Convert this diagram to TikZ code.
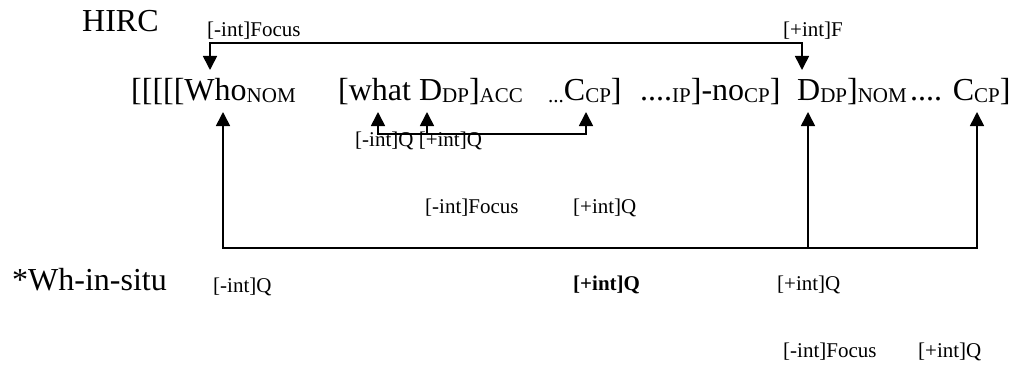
\documentclass[tikz,border=0pt]{standalone}
\usepackage{fontspec}
\setmainfont{Liberation Serif}
\usetikzlibrary{arrows.meta}
\newcommand{\lsub}[1]{{\fontsize{21}{21}\selectfont\raisebox{-2pt}{#1}}}
\begin{document}
\begin{tikzpicture}[x=1pt,y=-1pt,
  big/.style={font=\fontsize{32}{36}\selectfont, inner sep=0pt, anchor=base west},
  small/.style={font=\fontsize{21}{24}\selectfont, inner sep=0pt, anchor=base west},
  conn/.style={line width=1.6pt},
  tip/.style={-{Triangle[width=14pt,length=14pt]}},
  tips/.style={{Triangle[width=14pt,length=14pt]}-{Triangle[width=14pt,length=14pt]}}]
\useasboundingbox (0,0) rectangle (1026,369);
% labels
\node[big] (hirc) at (82,32) {HIRC};
\node[small] (lf1) at (207,37) {[-int]Focus};
\node[small] (lf2) at (783,37) {[+int]F};
% main row
\node[big] (w1) at (131,100) {[[[[[Who\lsub{NOM}};
\node[big] (w2) at (338,100) {[what D\lsub{DP}]\lsub{ACC}};
\node[big] (w3) at (548,100) {\lsub{...}C\lsub{CP}]};
\node[big] (w4) at (640,100) {....\lsub{IP}]-no\lsub{CP}]};
\node[big] (w5) at (797,100) {D\lsub{DP}]\lsub{NOM}};
\node[big] (w6) at (910,100) {.... C\lsub{CP}]};
\node[small] (q1) at (355,146) {[-int]Q [+int]Q};
\node[small] (m1) at (425,213) {[-int]Focus};
\node[small] (m2) at (573,213) {[+int]Q};
\node[big] (wh) at (12,290) {*Wh-in-situ};
\node[small] (b1) at (213,292) {[-int]Q};
\node[small] (b2) at (573,290) {\bfseries [+int]Q};
\node[small] (b3) at (777,290) {[+int]Q};
\node[small] (c1) at (783,357) {[-int]Focus};
\node[small] (c2) at (918,357) {[+int]Q};
% arrow end points
\coordinate (whoTop) at (210,70);
\coordinate (dTop) at (802,70);
\coordinate (whatQ) at (378,112);
\coordinate (dQ) at (427,112);
\coordinate (cQ) at (586,112);
\coordinate (dQbase) at (427,134);
\coordinate (whoB) at (223,112);
\coordinate (dB) at (808,112);
\coordinate (cB) at (977,112);
\coordinate (dBbase) at (808,248);
% connectors
\draw[conn,tips] (whoTop) -- ++(0,-27) -| (dTop);
\draw[conn,tips] (whatQ) -- ++(0,22) -| (cQ);
\draw[conn,tip] (dQbase) -- (dQ);
\draw[conn,tips] (whoB) -- ++(0,136) -| (cB);
\draw[conn,tip] (dBbase) -- (dB);
\end{tikzpicture}
\end{document}
